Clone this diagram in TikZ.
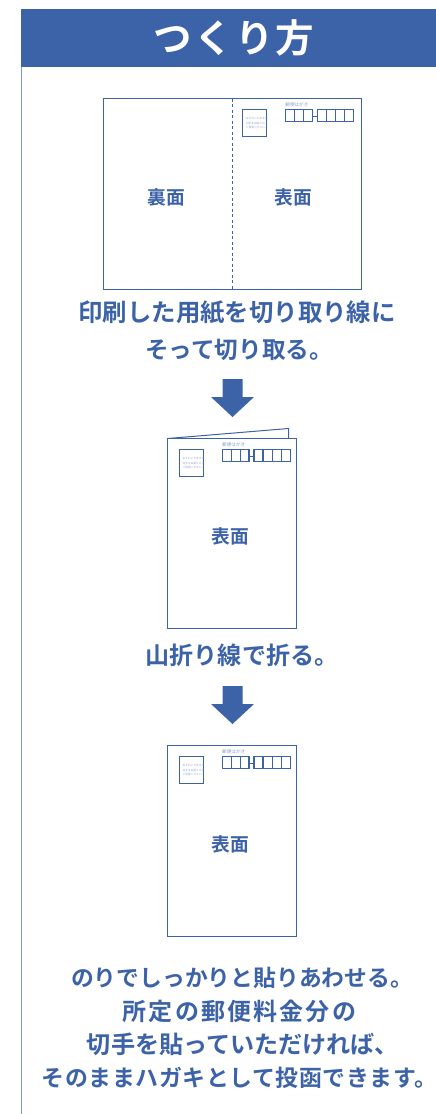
\documentclass[tikz,border=0pt]{standalone}
\usepackage{fontspec}
\setmainfont{Noto Sans CJK JP}[BoldFont={Noto Sans CJK JP Bold}]
\newfontfamily\jptitle{Noto Sans CJK JP Bold}[LetterSpace=6]
\newfontfamily\jpspaced{Noto Sans CJK JP Bold}[LetterSpace=9]
\newfontfamily\jptight{Noto Sans CJK JP Bold}[LetterSpace=2.5]
\newfontfamily\jpbold{Noto Sans CJK JP Bold}
\newfontfamily\jpreg{Noto Sans CJK JP}
\definecolor{kblue}{HTML}{3C62A8}
\definecolor{kline}{HTML}{7F96C4}
\definecolor{ktiny}{HTML}{8CA2CC}
\newcommand{\jpsize}[1]{\jpbold\fontsize{#1}{#1}\selectfont}
\tikzset{
  x=1pt,y=-1pt,
  cardbox/.style={draw=kblue,line width=1pt,fill=white},
  thinbox/.style={draw=kblue,line width=1pt},
  zipbox/.style={draw=kblue,line width=1.25pt},
  zipdash/.style={draw=kblue,line width=.8pt},
  blockarrow/.style={fill=kblue,draw=none},
  heading/.style={font=\jptitle\fontsize{38.5}{38.5}\selectfont,text=white,inner sep=0pt,anchor=center},
  line text/.style={text=kblue,inner sep=0pt},
  side label/.style={font=\jpsize{18.7},text=kblue,inner sep=0pt},
  tiny label/.style={font=\jpreg\fontsize{4.6}{5}\selectfont,text=ktiny,inner sep=0pt,anchor=west},
  stamp text/.style={font=\jpreg\fontsize{2.7}{4.6}\selectfont,text=ktiny,inner sep=0pt,align=left,anchor=west},
}
\newcommand{\postmarks}[3]{%
  \begin{scope}[shift={(#1,#2)}]
    \draw[thinbox] (0,0) rectangle (24,27);
    \node[stamp text] (#3stamp) at (3,13.5) {おそれいりますが\\切手をお貼りの上\\ご投函ください。};
    \node[tiny label] (#3post) at (42.5,-5) {郵便はがき};
    \draw[zipbox] (43,0) rectangle (69.5,12);
    \draw[zipbox] (51.8,0) -- (51.8,12) (60.7,0) -- (60.7,12);
    \draw[zipdash] (70,6.5) -- (74,6.5);
    \draw[zipbox] (74.5,0) rectangle (111,12);
    \draw[zipbox] (83.6,0) -- (83.6,12) (92.7,0) -- (92.7,12) (101.9,0) -- (101.9,12);
  \end{scope}}
\newcommand{\downarrowblock}[1]{%
  \begin{scope}[shift={(0,#1)}]
    \fill[blockarrow] (222.5,0) -- (242.5,0) -- (242.5,18) -- (254,18) -- (232.5,38) -- (211,18) -- (222.5,18) -- cycle;
  \end{scope}}
\begin{document}
\begin{tikzpicture}
\useasboundingbox (0,0) rectangle (436,1114);
% header
\fill[kblue] (21,9) rectangle (436,67);
\draw[kline,line width=1pt] (21.5,67) -- (21.5,1114);
\node[heading] (title) at (234,38) {つくり方};
% step 1 card
\draw[cardbox] (103.7,98.5) rectangle (361.5,289);
\draw[kblue,line width=1pt,dash pattern=on 3pt off 2.5pt] (232.7,98.5) -- (232.7,289);
\postmarks{242.7}{109.5}{a}
\node[side label] (ura) at (166,197) {裏面};
\node[side label] (omote1) at (293.5,197) {表面};
\node[line text,font=\jpsize{24.4}] (step1a) at (237,313) {印刷した用紙を切り取り線に};
\node[line text,font=\jpsize{23.6}] (step1b) at (239,350) {そって切り取る。};
\downarrowblock{379}
% step 2 card
\draw[thinbox,fill=white] (167.5,438.5) -- (288.5,428.5) -- (288.5,438.5);
\draw[cardbox] (167.5,438.5) rectangle (296.5,628.5);
\postmarks{179.5}{449.5}{b}
\node[side label] (omote2) at (230,536.5) {表面};
\node[line text,font=\jpsize{24.1}] (step2) at (242,655) {山折り線で折る。};
\downarrowblock{686}
% step 3 card
\draw[cardbox] (167.5,745.5) rectangle (296.5,936.5);
\postmarks{179.5}{756.5}{c}
\node[side label] (omote3) at (230,844) {表面};
\node[line text,font=\jpsize{22.8}] (step3a) at (242,978) {のりでしっかりと貼りあわせる。};
\node[line text,font=\jpspaced\fontsize{24}{24}\selectfont] (step3b) at (239.5,1011) {所定の郵便料金分の};
\node[line text,font=\jpsize{24.1}] (step3c) at (243,1044) {切手を貼っていただければ、};
\node[line text,font=\jptight\fontsize{22.9}{22.9}\selectfont] (step3d) at (239.5,1078) {そのままハガキとして投函できます。\hspace{-11pt}};
\end{tikzpicture}
\end{document}
